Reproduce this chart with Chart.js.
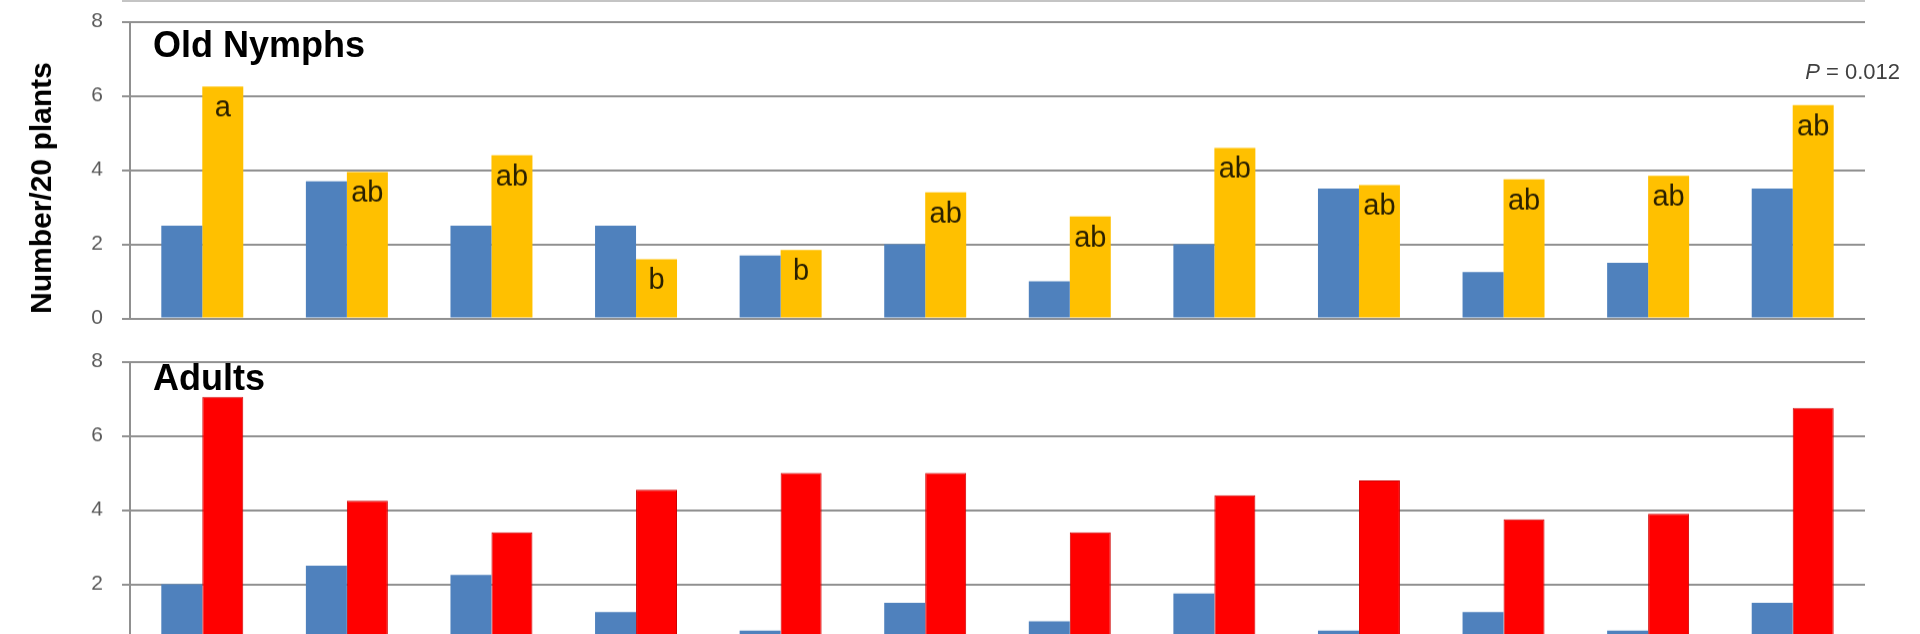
<!DOCTYPE html>
<html>
<head>
<meta charset="utf-8">
<script src="https://cdn.jsdelivr.net/npm/chart.js@4.4.0/dist/chart.umd.min.js"></script>
<style>
  html, body { margin: 0; padding: 0; background: #fff; overflow: hidden; }
  body { width: 1920px; height: 634px; position: relative; font-family: 'Liberation Sans', Arial, sans-serif; }
  /* the y scale reserves label half-height + tick padding (31.6px) above and below the plot */
  .panel { position: absolute; left: 0; width: 1920px; height: 359.2px; }
  #panelTop { top: -9.6px; }
  #panelBottom { top: 330.4px; }
  #prevAxis { position: absolute; left: 122px; width: 1743px; top: 0; height: 2px; background: #c4c4c4; }
  .panel-title { position: absolute; left: 153px; font-weight: bold; font-size: 36px; line-height: 1; color: #000; }
  #titleTop { top: 27px; }
  #titleBottom { top: 360px; }
  #yTitle {
    position: absolute; left: 41px; top: 188px;
    transform: translate(-50%, -50%) rotate(-90deg);
    font-weight: bold; font-size: 30px; line-height: 1; white-space: nowrap; color: #000;
  }
  #pValue { position: absolute; right: 20px; top: 61px; font-size: 22px; line-height: 1; color: #404040; }
</style>
</head>
<body>
<div id="prevAxis"></div>
<div class="panel" id="panelTop"><canvas id="chartNymphs"></canvas></div>
<div class="panel" id="panelBottom"><canvas id="chartAdults"></canvas></div>
<div class="panel-title" id="titleTop">Old Nymphs</div>
<div class="panel-title" id="titleBottom">Adults</div>
<div id="yTitle">Number/20 plants</div>
<div id="pValue"><i>P</i> = 0.012</div>

<script>
const groups = ['1', '2', '3', '4', '5', '6', '7', '8', '9', '10', '11', '12'];
const yTicks = [0, 2, 4, 6, 8];

// Old Nymphs
const nymphsBlue   = [2.5, 3.7, 2.5, 2.5, 1.7, 2.0, 1.0, 2.0, 3.5, 1.25, 1.5, 3.5];
const nymphsYellow = [6.25, 3.95, 4.4, 1.6, 1.85, 3.4, 2.75, 4.6, 3.6, 3.75, 3.85, 5.75];
const nymphsLetters = ['a', 'ab', 'ab', 'b', 'b', 'ab', 'ab', 'ab', 'ab', 'ab', 'ab', 'ab'];

// Adults
const adultsBlue = [2.0, 2.5, 2.25, 1.25, 0.75, 1.5, 1.0, 1.75, 0.75, 1.25, 0.75, 1.5];
const adultsRed  = [7.05, 4.25, 3.4, 4.55, 5.0, 5.0, 3.4, 4.4, 4.8, 3.75, 3.9, 6.75];

const FONT = 'Liberation Sans';
const GRID = '#909090';

// letters written inside the top of the second bar of each group
const letterPlugin = {
    id: 'barLetters',
    afterDatasetsDraw(chart, args, opts) {
        if (!opts.letters) return;
        const meta = chart.getDatasetMeta(1);
        const ctx = chart.ctx;
        ctx.save();
        ctx.font = '29px "' + FONT + '"';
        ctx.fillStyle = '#2a2000';
        ctx.textAlign = 'center';
        ctx.textBaseline = 'alphabetic';
        meta.data.forEach((bar, i) => {
            ctx.fillText(opts.letters[i], bar.x, bar.y + 30);
        });
        ctx.restore();
    }
};

function makePanel(canvasId, first, second, secondColor, secondBorder, letters) {
    const ctx = document.getElementById(canvasId).getContext('2d');
    return new Chart(ctx, {
        type: 'bar',
        data: {
            labels: groups,
            datasets: [
                {
                    label: 'Series 1',
                    data: first,
                    backgroundColor: '#4F81BD',
                    borderWidth: 0
                },
                {
                    label: 'Series 2',
                    data: second,
                    backgroundColor: secondColor,
                    borderColor: secondBorder,
                    borderWidth: secondBorder ? 1 : 0
                }
            ]
        },
        options: {
            responsive: true,
            maintainAspectRatio: false,
            animation: false,
            categoryPercentage: 0.567,
            barPercentage: 1.0,
            layout: { padding: { top: 0, right: 55, bottom: 0, left: 0 } },
            plugins: {
                legend: { display: false },
                tooltip: { enabled: false },
                barLetters: { letters: letters }
            },
            scales: {
                x: { display: false },
                y: {
                    min: 0,
                    max: 8,
                    afterBuildTicks: (s) => { s.ticks = yTicks.map(v => ({ value: v })); },
                    afterFit: (s) => { s.width = 130; },
                    grid: { color: GRID, lineWidth: 2, tickLength: 8 },
                    border: { display: true, color: GRID, width: 2 },
                    ticks: {
                        color: '#595959',
                        padding: 19,
                        font: { family: FONT, size: 21 }
                    }
                }
            }
        },
        plugins: [letterPlugin]
    });
}

makePanel('chartNymphs', nymphsBlue, nymphsYellow, '#FFC000', null, nymphsLetters);
makePanel('chartAdults', adultsBlue, adultsRed, '#FF0000', '#D00000', null);
</script>
</body>
</html>
